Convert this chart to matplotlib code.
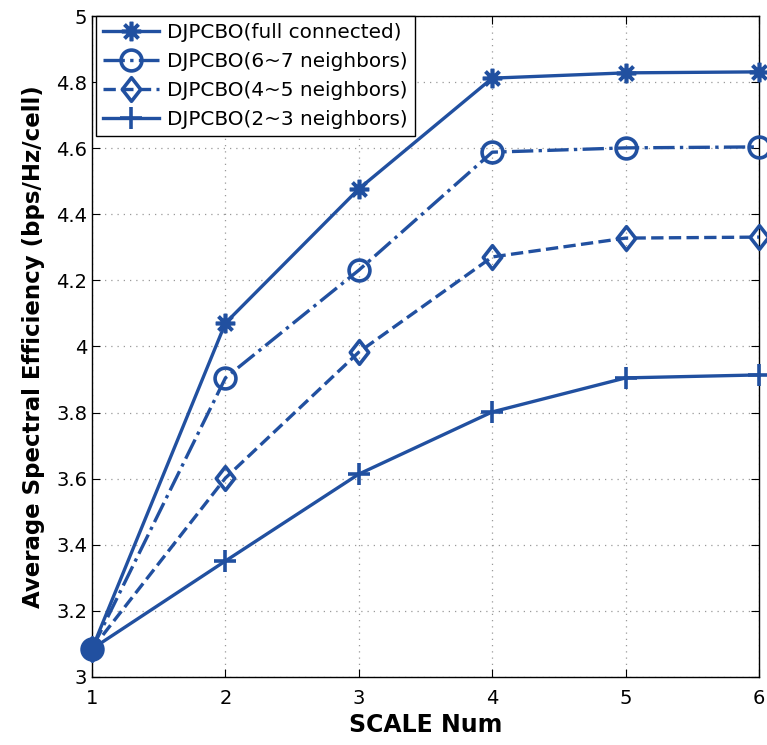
import matplotlib
matplotlib.use("Agg")
import matplotlib.pyplot as plt
from matplotlib.path import Path

plt.rcParams['font.family'] = ['DejaVu Sans']

scale = [1, 2, 3, 4, 5, 6]
full = [3.085, 4.071, 4.477, 4.812, 4.828, 4.831]
n67 = [3.085, 3.905, 4.231, 4.588, 4.601, 4.604]
n45 = [3.085, 3.602, 3.983, 4.271, 4.328, 4.331]
n23 = [3.085, 3.351, 3.614, 3.802, 3.905, 3.914]
labels = ['DJPCBO(full connected)', 'DJPCBO(6~7 neighbors)',
          'DJPCBO(4~5 neighbors)', 'DJPCBO(2~3 neighbors)']

diamond = Path([(0, 1), (0.78, 0), (0, -1), (-0.78, 0), (0, 1)],
               [Path.MOVETO, Path.LINETO, Path.LINETO, Path.LINETO, Path.CLOSEPOLY])

c = '#2150A0'
fig = plt.figure(figsize=(7.67, 7.45), dpi=100)
ax = fig.add_axes([0.12, 0.0913, 0.8696, 0.8872])

lw = 2.4
ax.plot(scale, full, '-', marker=(8, 2, 0), color=c, lw=lw, ms=14, mew=2.6, clip_on=False, label=labels[0], zorder=5)
ax.plot(scale, n67, '-.', marker='o', color=c, lw=lw, ms=15, mew=2.6, mfc='none', clip_on=False, label=labels[1], zorder=5)
ax.plot(scale, n45, '--', marker=diamond, color=c, lw=lw, ms=17, mew=2.6, mfc='none', clip_on=False, label=labels[2], zorder=5)
ax.plot(scale, n23, '-', marker='+', color=c, lw=lw, ms=16, mew=2.6, clip_on=False, label=labels[3], zorder=5)
ax.plot([1], [3.085], 'o', color=c, ms=15, clip_on=False, zorder=6)

ax.set_xlim(1, 6)
ax.set_ylim(3, 5)
ax.set_xticks(scale)
ax.set_yticks([3, 3.2, 3.4, 3.6, 3.8, 4, 4.2, 4.4, 4.6, 4.8, 5])
ax.set_yticklabels(['3', '3.2', '3.4', '3.6', '3.8', '4', '4.2', '4.4', '4.6', '4.8', '5'])
ax.grid(True, linestyle=(0, (1, 4)), color='#999999', lw=0.9)
ax.tick_params(direction='in', labelsize=14, length=6, top=True, right=True)
ax.tick_params(axis='x', pad=9)
for s in ax.spines.values():
    s.set_linewidth(1.0)
ax.set_xlabel('SCALE Num', fontsize=17, fontweight='bold', labelpad=3)
ax.set_ylabel('Average Spectral Efficiency (bps/Hz/cell)', fontsize=16.5, fontweight='bold', labelpad=8)

leg = ax.legend(loc='upper left', bbox_to_anchor=(0.006, 1.0), fontsize=14.4, frameon=True, fancybox=False,
                edgecolor='black', framealpha=1, borderaxespad=0.0, handlelength=2.8,
                handletextpad=0.4, labelspacing=0.5, borderpad=0.35)
leg.get_frame().set_linewidth(1.0)

fig.savefig('out.png', dpi=100)
